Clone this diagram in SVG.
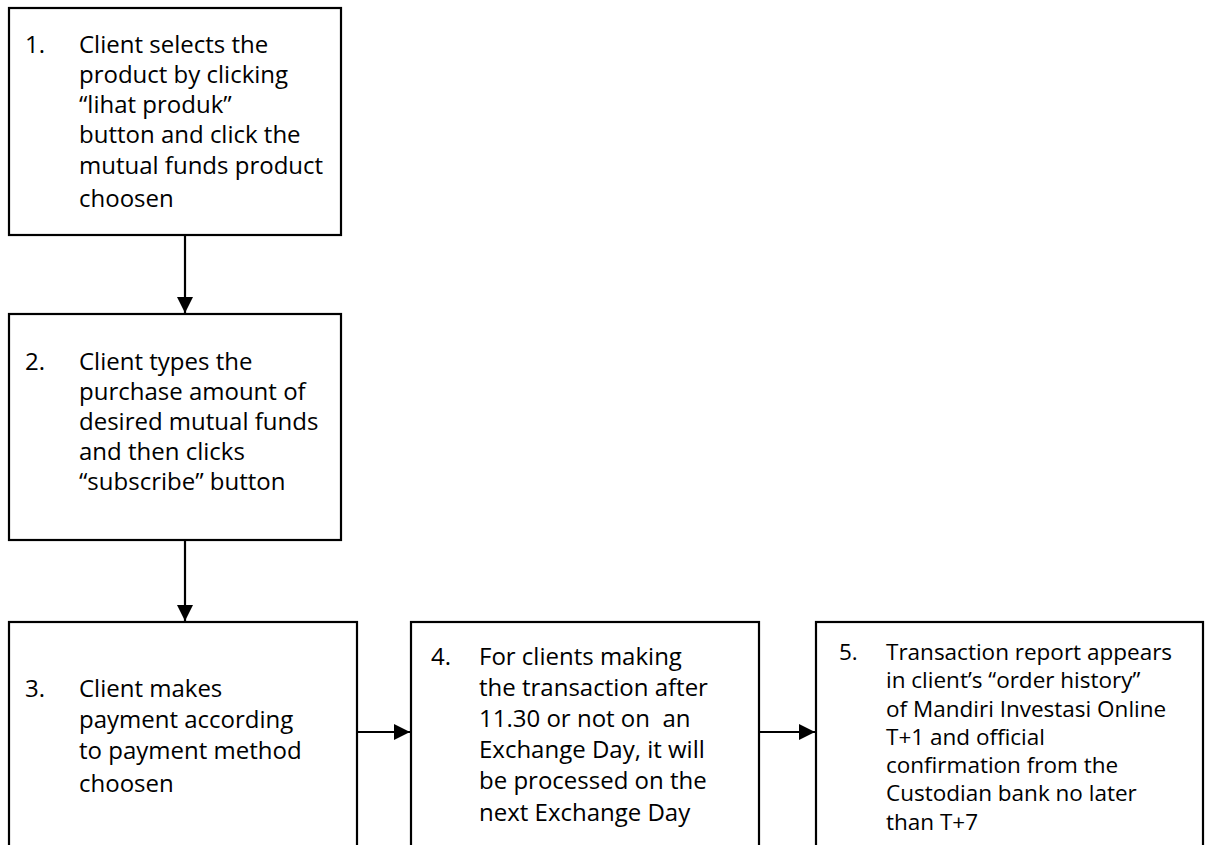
<svg xmlns="http://www.w3.org/2000/svg" width="1205" height="845" viewBox="0 0 1205 845">
<style>
.box{fill:#fff;stroke:#000;stroke-width:2.2}
.t{font-family:"Open Sans","DejaVu Sans",sans-serif;font-size:24px;fill:#000;white-space:pre}
.s{font-size:22.5px}
.ln{stroke:#000;stroke-width:2.2;fill:none}
</style>
<defs>
<marker id="ah" viewBox="0 0 16 16" refX="16" refY="8" markerWidth="16" markerHeight="16" markerUnits="userSpaceOnUse" orient="auto">
<path d="M0,0 L16,8 L0,16 Z" fill="#000"/>
</marker>
</defs>
<rect width="1205" height="845" fill="#fff"/>
<g id="connectors">
<line class="ln" x1="185" y1="235" x2="185" y2="313" marker-end="url(#ah)"/>
<line class="ln" x1="185" y1="540" x2="185" y2="621" marker-end="url(#ah)"/>
<line class="ln" x1="357" y1="732" x2="410" y2="732" marker-end="url(#ah)"/>
<line class="ln" x1="759" y1="732" x2="815" y2="732" marker-end="url(#ah)"/>
</g>
<g id="node1">
<rect class="box" x="9" y="8" width="332" height="227"/>
<text class="t"><tspan x="25" y="53">1.</tspan><tspan x="79" y="53">Client selects the</tspan><tspan x="79" y="83">product by clicking</tspan><tspan x="79" y="113">“lihat produk”</tspan><tspan x="79" y="143">button and click the</tspan><tspan x="79" y="174">mutual funds product</tspan><tspan x="79" y="207">choosen</tspan></text>
</g>
<g id="node2">
<rect class="box" x="9" y="314" width="332" height="226"/>
<text class="t"><tspan x="25" y="370">2.</tspan><tspan x="79" y="370">Client types the</tspan><tspan x="79" y="400">purchase amount of</tspan><tspan x="79" y="430">desired mutual funds</tspan><tspan x="79" y="460">and then clicks</tspan><tspan x="79" y="490">“subscribe” button</tspan></text>
</g>
<g id="node3">
<rect class="box" x="9" y="622" width="348" height="240"/>
<text class="t"><tspan x="25" y="697">3.</tspan><tspan x="79" y="697">Client makes</tspan><tspan x="79" y="728">payment according</tspan><tspan x="79" y="759">to payment method</tspan><tspan x="79" y="792">choosen</tspan></text>
</g>
<g id="node4">
<rect class="box" x="411" y="622" width="348" height="240"/>
<text class="t"><tspan x="431" y="665">4.</tspan><tspan x="479" y="665">For clients making</tspan><tspan x="479" y="696">the transaction after</tspan><tspan x="479" y="727">11.30 or not on  an</tspan><tspan x="479" y="758">Exchange Day, it will</tspan><tspan x="479" y="789">be processed on the</tspan><tspan x="479" y="821">next Exchange Day</tspan></text>
</g>
<g id="node5">
<rect class="box" x="816" y="622" width="387" height="240"/>
<text class="t s"><tspan x="839" y="660">5.</tspan><tspan x="886" y="660">Transaction report appears</tspan><tspan x="886" y="688">in client’s “order history”</tspan><tspan x="886" y="717">of Mandiri Investasi Online</tspan><tspan x="886" y="745">T+1 and official</tspan><tspan x="886" y="773">confirmation from the</tspan><tspan x="886" y="801">Custodian bank no later</tspan><tspan x="886" y="830">than T+7</tspan></text>
</g>
</svg>
